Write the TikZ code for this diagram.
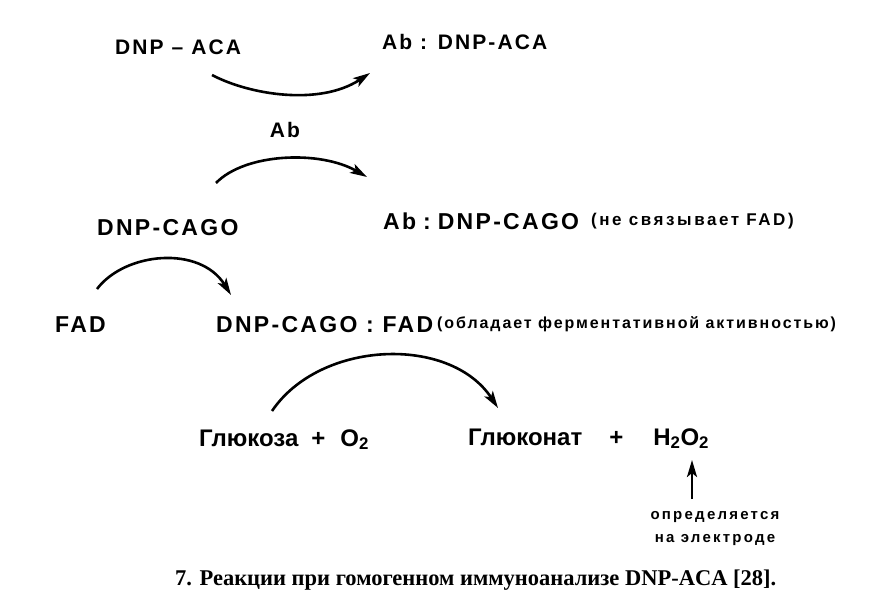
\documentclass[tikz,border=0pt]{standalone}
\usepackage{fontspec}
\setmainfont{Liberation Serif}
\newfontfamily\chemfont[LetterSpace=10]{Liberation Sans}
\newfontfamily\asidefont[LetterSpace=15]{Liberation Sans}
\newfontfamily\narrowaside[LetterSpace=12]{Liberation Sans}
\newfontfamily\sugarfont{Liberation Sans}
\usetikzlibrary{arrows.meta,positioning}
\tikzset{
  chem/.style={font={\chemfont\bfseries\fontsize{21}{24}\selectfont}, inner sep=0pt, anchor=base west},
  bigchem/.style={chem, font={\chemfont\bfseries\fontsize{23}{26}\selectfont}},
  sugar/.style={chem, font={\sugarfont\bfseries\fontsize{24}{26}\selectfont}},
  aside/.style={font={\asidefont\bfseries\fontsize{17}{19}\selectfont}, inner sep=0pt, anchor=base west},
  arr/.style={-{Stealth[length=17pt,width=10pt,inset=4pt]}, line width=2.6pt},
}

\begin{document}
\begin{tikzpicture}[x=1pt,y=-1pt,
  note/.style={font={\asidefont\bfseries\fontsize{15}{23}\selectfont}, align=center, inner sep=0pt},
  caption/.style={font={\bfseries\fontsize{22.5}{25}\selectfont}, inner sep=0pt, anchor=base west}]
  \useasboundingbox (0,0) rectangle (875,610);

  \node[chem] (dnpaca) at (115,55) {DNP – ACA};
  \node[chem] (abaca) at (382,49) {Ab : DNP-ACA};
  \node[chem, anchor=base] (ab) at (285,137) {Ab};
  \node[bigchem] (dnpcago) at (97,235) {DNP-CAGO};
  \node[bigchem] (abcago) at (383,229) {Ab\hspace{7pt}:\hspace{7pt}DNP-CAGO};
  \node[aside] (abnote) at (591,225) {(не связывает FAD)};
  \node[bigchem] (fad) at (55,332) {FAD};
  \node[bigchem] (cagofad) at (216,332) {DNP-CAGO : FAD};
  \node[aside, font={\narrowaside\bfseries\fontsize{16}{18}\selectfont}] (fadnote) at (437,328)
    {(обладает ферментативной активностью)};
  \node[sugar] (glu) at (199,446) {Глюкоза\hspace{13pt}+\hspace{15pt}O\textsubscript{2}};
  \node[sugar] (gluconat) at (468,445)
    {Глюконат\hspace{27pt}+\hspace{30pt}H\textsubscript{2}O\textsubscript{2}};
  \node[note] (detect) at (715,529) {определяется\\на электроде};
  \node[caption] (fig) at (175,585) {7. Реакции при гомогенном иммуноанализе DNP-ACA [28].};

  \coordinate (a1) at (212,75);
  \coordinate (a2) at (370,73);
  \coordinate (b1) at (216,183);
  \coordinate (b2) at (367,177);
  \coordinate (c1) at (97,289);
  \coordinate (c2) at (231,295);
  \coordinate (d1) at (272,411);
  \coordinate (d2) at (498,408);
  \coordinate (e1) at (692,499);
  \coordinate (e2) at (692,460);

  \draw[arr] (a1) .. controls (250,95) and (320,106) .. (a2);
  \draw[arr] (b1) .. controls (245,153) and (320,150) .. (b2);
  \draw[arr] (c1) .. controls (125,252) and (200,245) .. (c2);
  \draw[arr] (d1) .. controls (320,340) and (450,335) .. (d2);
  \draw[arr] (e1) -- (e2);
\end{tikzpicture}
\end{document}
